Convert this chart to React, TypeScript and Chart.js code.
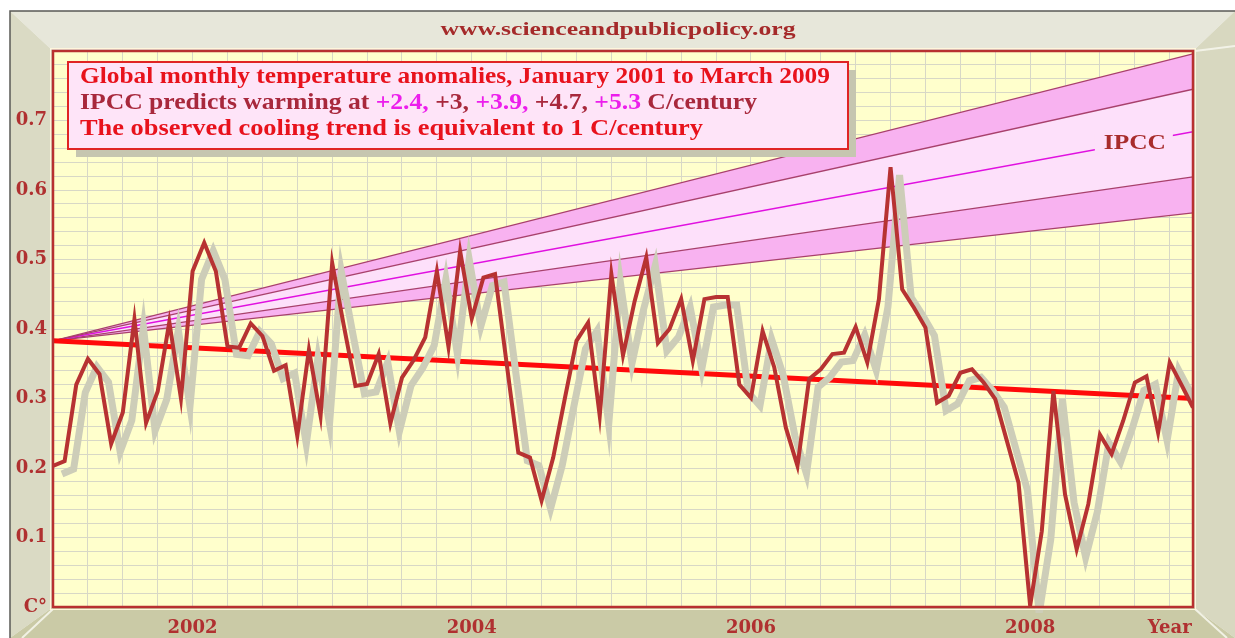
import React, { useEffect, useRef } from 'react';
import { Chart, registerables } from 'chart.js';

Chart.register(...registerables);

// Monthly global temperature anomalies, Jan 2001 .. Mar 2009 (index = month number)
const temps = [
  0.203, 0.21, 0.32, 0.357, 0.335, 0.235, 0.28, 0.414, 0.265, 0.31, 0.41, 0.30,
  0.483, 0.524, 0.483, 0.375, 0.373, 0.408, 0.39, 0.34, 0.348, 0.246, 0.37, 0.275,
  0.495, 0.405, 0.318, 0.321, 0.364, 0.264, 0.33, 0.355, 0.388, 0.483, 0.374, 0.512,
  0.415, 0.474, 0.479, 0.35, 0.222, 0.215, 0.153, 0.215, 0.30, 0.383, 0.409, 0.275,
  0.479, 0.362, 0.44, 0.503, 0.38, 0.40, 0.443, 0.354, 0.443, 0.446, 0.446, 0.32,
  0.301, 0.397, 0.345, 0.258, 0.203, 0.328, 0.342, 0.364, 0.366, 0.403, 0.352, 0.443,
  0.633, 0.457, 0.431, 0.402, 0.294, 0.304, 0.337, 0.342, 0.323, 0.299, 0.239, 0.179,
  0.002, 0.109, 0.311, 0.162, 0.083, 0.148, 0.248, 0.22, 0.268, 0.323, 0.332, 0.251,
  0.352, 0.32, 0.287,
];

const lastMonth = 98;
const trendValues = [0.383, 0.300]; // start, end
const ipccStart = 0.383;
// end values of IPCC projection lines (+5.3, +4.7, +3.9, +3, +2.4 C/century)
const ipccEnds = [0.796, 0.745, 0.684, 0.619, 0.567];
const ipccRates = ['+2.4,', ' +3,', ' +3.9,', ' +4.7,', ' +5.3'];
const xTickLabels: Record<number, string> = { 12: '2002', 36: '2004', 60: '2006', 84: '2008', 96: 'Year' };
const yTickLabels = ['C°', '0.1', '0.2', '0.3', '0.4', '0.5', '0.6', '0.7'];

const siteTitle = 'www.scienceandpublicpolicy.org';
const legendLine1 = 'Global monthly temperature anomalies, January 2001 to March 2009';
const legendLine2Prefix = 'IPCC predicts warming at ';
const legendLine2Suffix = ' C/century';
const legendLine3 = 'The observed cooling trend is equivalent to 1 C/century';

const W = 1235;
const H = 638;

const RED_TEXT = '#e8121c';
const MAROON = '#a8283c';
const MAGENTA = '#ec1eec';
const AXIS_TEXT = '#b03030';

function drawScaledText(ctx: CanvasRenderingContext2D, text: string, x: number, y: number, font: string, color: string, targetW: number, align: 'left' | 'center') {
  ctx.save();
  ctx.font = font;
  ctx.fillStyle = color;
  ctx.textBaseline = 'middle';
  const w = ctx.measureText(text).width;
  const s = targetW / w;
  ctx.translate(align === 'center' ? x - targetW / 2 : x, y);
  ctx.scale(s, 1);
  ctx.textAlign = 'left';
  ctx.fillText(text, 0, 0);
  ctx.restore();
}

const framePlugin = {
  id: 'frame',
  beforeDraw(chart: any) {
    const ctx: CanvasRenderingContext2D = chart.ctx;
    const { left, top, right, bottom } = chart.chartArea;
    const O = { l: 10, t: 11, r: W, b: H };
    ctx.save();
    ctx.fillStyle = '#ffffff';
    ctx.fillRect(0, 0, W, H);
    const poly = (pts: number[][], color: string) => {
      ctx.beginPath();
      ctx.moveTo(pts[0][0], pts[0][1]);
      for (let i = 1; i < pts.length; i++) ctx.lineTo(pts[i][0], pts[i][1]);
      ctx.closePath();
      ctx.fillStyle = color;
      ctx.fill();
    };
    poly([[O.l, O.t], [O.r, O.t], [right, top], [left, top]], '#e7e7da');
    poly([[O.l, O.t], [left, top], [left, bottom], [O.l, O.b]], '#dadac4');
    poly([[O.r, O.t], [O.r, O.b], [right, bottom], [right, top]], '#d8d8c0');
    poly([[left, bottom], [right, bottom], [O.r, O.b], [O.l, O.b]], '#cacaa6');
    ctx.strokeStyle = 'rgba(245,245,235,0.9)';
    ctx.lineWidth = 2;
    ctx.beginPath();
    ctx.moveTo(right + 2, top); ctx.lineTo(O.r, O.t + 35);
    ctx.moveTo(left, bottom + 2); ctx.lineTo(O.l + 12, O.b);
    ctx.moveTo(right + 2, bottom + 2); ctx.lineTo(O.r - 8, O.b);
    ctx.stroke();
    ctx.strokeStyle = '#5a5a55';
    ctx.lineWidth = 1.5;
    ctx.beginPath();
    ctx.moveTo(O.l, O.b); ctx.lineTo(O.l, O.t); ctx.lineTo(O.r, O.t);
    ctx.stroke();
    ctx.fillStyle = '#ffffcc';
    ctx.fillRect(left, top, right - left, bottom - top);
    ctx.restore();
  },
  beforeDatasetDraw(chart: any, args: any) {
    if (args.index === 1) {
      const { left, top, right, bottom } = chart.chartArea;
      const ctx: CanvasRenderingContext2D = chart.ctx;
      ctx.save();
      ctx.beginPath();
      ctx.rect(left, top, right - left, bottom - top + 6);
      ctx.clip();
      ctx.translate(9, 8);
    }
  },
  afterDatasetDraw(chart: any, args: any) {
    if (args.index === 1) chart.ctx.restore();
  },
  afterDatasetsDraw(chart: any) {
    const ctx: CanvasRenderingContext2D = chart.ctx;
    const { left, top, right, bottom } = chart.chartArea;
    const xs = chart.scales.x;
    const ys = chart.scales.y;
    const m = 93;
    const v = ipccStart + (ipccEnds[2] - ipccStart) * (m / lastMonth);
    const px = xs.getPixelForValue(m);
    const py = ys.getPixelForValue(v);
    ctx.save();
    ctx.fillStyle = '#fde0fa';
    ctx.fillRect(px - 40, py - 9, 78, 18);
    ctx.restore();
    drawScaledText(ctx, 'IPCC', px, py + 1, 'bold 22px "Liberation Serif"', '#a82c2c', 62, 'center');
    ctx.save();
    ctx.strokeStyle = '#fff6dc';
    ctx.lineWidth = 1;
    ctx.strokeRect(left - 2.5, top - 2.5, right - left + 5, bottom - top + 5);
    ctx.strokeStyle = '#b83030';
    ctx.lineWidth = 2.5;
    ctx.strokeRect(left, top, right - left, bottom - top);
    ctx.restore();
  },
  afterDraw(chart: any) {
    const ctx: CanvasRenderingContext2D = chart.ctx;
    drawScaledText(ctx, siteTitle, 618, 30, 'bold 19px "Liberation Serif"', '#a52a2a', 355, 'center');
    const bx = 68, by = 62, bw = 780, bh = 87;
    ctx.save();
    ctx.fillStyle = '#c6c6b0';
    ctx.fillRect(bx + 8, by + 8, bw, bh);
    ctx.fillStyle = '#fee4f8';
    ctx.fillRect(bx, by, bw, bh);
    ctx.strokeStyle = '#e02424';
    ctx.lineWidth = 2;
    ctx.strokeRect(bx, by, bw, bh);
    ctx.restore();
    const font = 'bold 24px "Liberation Serif"';
    drawScaledText(ctx, legendLine1, 80, 77, font, RED_TEXT, 750, 'left');
    ctx.save();
    ctx.font = font;
    ctx.textBaseline = 'middle';
    const segs: [string, string][] = [[legendLine2Prefix, MAROON]];
    ipccRates.forEach((r, i) => segs.push([r, i % 2 === 0 ? MAGENTA : MAROON]));
    segs.push([legendLine2Suffix, MAROON]);
    const full = segs.map((s) => s[0]).join('');
    const s2 = 677 / ctx.measureText(full).width;
    ctx.translate(80, 103);
    ctx.scale(s2, 1);
    let cx = 0;
    for (const [t, c] of segs) {
      ctx.fillStyle = c;
      ctx.fillText(t, cx, 0);
      cx += ctx.measureText(t).width;
    }
    ctx.restore();
    drawScaledText(ctx, legendLine3, 80, 129, font, RED_TEXT, 623, 'left');
  },
};

function line(endVal: number) {
  return [{ x: 0, y: ipccStart }, { x: lastMonth, y: endVal }];
}

export default function App() {
  const ref = useRef<HTMLCanvasElement | null>(null);
  useEffect(() => {
    if (!ref.current) return;
    const tempPoints = temps.map((v, i) => ({ x: i, y: v }));
    const OUTER_PINK = '#f8b2f0';
    const INNER_PINK = '#fde0fa';
    const chart = new Chart(ref.current, {
      type: 'line',
      data: {
        datasets: [
          { label: 'Anomaly', data: tempPoints, borderColor: '#b73232', borderWidth: 4, pointRadius: 0, tension: 0, order: 0, borderJoinStyle: 'miter' } as any,
          { label: 'Shadow', data: tempPoints, borderColor: '#cdcdb8', borderWidth: 7, pointRadius: 0, tension: 0, order: 1, clip: false } as any,
          { label: 'Trend', data: [{ x: 0, y: trendValues[0] }, { x: lastMonth, y: trendValues[1] }], borderColor: '#ff0a0a', borderWidth: 5, pointRadius: 0, order: 2 } as any,
          { label: 'IPCC +5.3', data: line(ipccEnds[0]), borderColor: '#a8406c', borderWidth: 1.3, pointRadius: 0, order: 3, fill: { target: 4 }, backgroundColor: OUTER_PINK } as any,
          { label: 'IPCC +4.7', data: line(ipccEnds[1]), borderColor: '#a8406c', borderWidth: 1.3, pointRadius: 0, order: 4, fill: { target: 6 }, backgroundColor: INNER_PINK } as any,
          { label: 'IPCC +3.9', data: line(ipccEnds[2]), borderColor: '#e010e0', borderWidth: 1.5, pointRadius: 0, order: 5, fill: false } as any,
          { label: 'IPCC +3', data: line(ipccEnds[3]), borderColor: '#a8406c', borderWidth: 1.3, pointRadius: 0, order: 6, fill: { target: 7 }, backgroundColor: OUTER_PINK } as any,
          { label: 'IPCC +2.4', data: line(ipccEnds[4]), borderColor: '#a8406c', borderWidth: 1.3, pointRadius: 0, order: 7, fill: false } as any,
        ],
      },
      options: {
        responsive: false,
        animation: false,
        devicePixelRatio: 1,
        layout: { padding: { left: 0, top: 51, right: 42, bottom: 0 } },
        plugins: {
          legend: { display: false },
          title: { display: false },
          tooltip: { enabled: false },
          filler: { drawTime: 'beforeDatasetsDraw' },
        } as any,
        scales: {
          x: {
            type: 'linear',
            min: 0,
            max: lastMonth,
            border: { display: false },
            grid: { color: '#d8d8c6', lineWidth: 1, drawTicks: false },
            afterFit: (s: any) => { s.height = H - 607; },
            ticks: {
              stepSize: 3,
              includeBounds: false,
              autoSkip: false,
              maxRotation: 0,
              padding: 11,
              color: AXIS_TEXT,
              font: { family: '"DejaVu Serif"', weight: 'bold', size: 18 },
              callback: (v: any) => xTickLabels[Math.round(Number(v))] ?? '',
            },
          },
          y: {
            type: 'linear',
            min: 0,
            max: 0.8,
            border: { display: false },
            grid: { color: '#d8d8c6', lineWidth: 1, drawTicks: false },
            afterFit: (s: any) => { s.width = 53; },
            ticks: {
              stepSize: 0.02,
              autoSkip: false,
              padding: 6,
              color: AXIS_TEXT,
              font: { family: '"DejaVu Serif"', weight: 'bold', size: 18 },
              callback: (v: any) => {
                const r = Math.round(Number(v) * 100);
                if (r % 10 !== 0) return '';
                return yTickLabels[r / 10] ?? '';
              },
            },
          },
        },
      } as any,
      plugins: [framePlugin],
    });
    return () => chart.destroy();
  }, []);
  return (
    <div style={{ position: 'fixed', left: 0, top: 0, width: W, height: H }}>
      <canvas ref={ref} width={W} height={H} style={{ width: W, height: H, display: 'block' }} />
    </div>
  );
}
